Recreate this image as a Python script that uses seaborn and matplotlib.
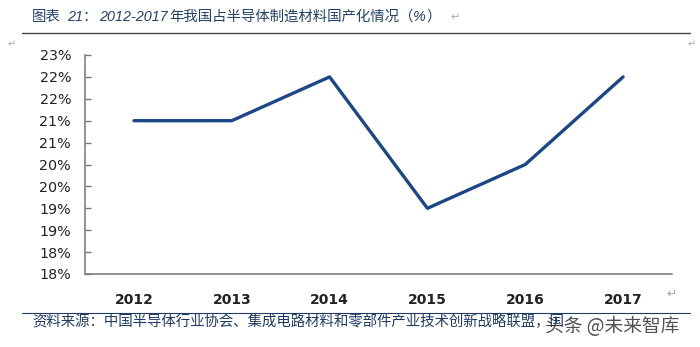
import matplotlib
matplotlib.use("Agg")
import matplotlib.pyplot as plt
import seaborn as sns
import pandas as pd

years = ["2012", "2013", "2014", "2015", "2016", "2017"]
share = [21.5, 21.5, 22.5, 19.5, 20.5, 22.5]
y_ticks = [18, 18.5, 19, 19.5, 20, 20.5, 21, 21.5, 22, 22.5, 23]
y_tick_labels = ["18%", "18%", "19%", "19%", "20%", "20%", "21%", "21%", "22%", "22%", "23%"]

sns.set_theme(style="white")
plt.rcParams["font.family"] = ["Noto Sans CJK SC", "DejaVu Sans"]

df = pd.DataFrame({"pos": range(len(years)), "share": share})

W, H = 700, 347
fig = plt.figure(figsize=(W / 100, H / 100), dpi=100)
ax = fig.add_axes([85 / W, 1 - 274 / H, (672 - 85) / W, (274 - 55) / H])

sns.lineplot(data=df, x="pos", y="share", ax=ax, color="#1c4787", linewidth=2.4)

ax.set_xlim(-0.5, len(years) - 0.5)
ax.set_ylim(18, 23)
ax.set_yticks(y_ticks)
ax.set_yticklabels(y_tick_labels, fontsize=10.3, color="#222222", family=["DejaVu Sans"])
ax.set_xticks(range(len(years)))
ax.set_xticklabels(years, fontsize=10, fontweight="bold", color="#222222", family=["DejaVu Sans"])
ax.set_xticks([i - 0.5 for i in range(len(years) + 1)], minor=True)
ax.tick_params(axis="x", which="major", length=0, pad=14)
ax.tick_params(axis="x", which="minor", direction="in", length=4, color="#777777", width=1)
ax.tick_params(axis="y", direction="in", length=4, color="#777777", width=1, left=True, pad=10)
ax.set_xlabel("")
ax.set_ylabel("")
for side in ("top", "right"):
    ax.spines[side].set_visible(False)
for side in ("left", "bottom"):
    ax.spines[side].set_color("#777777")
    ax.spines[side].set_linewidth(1.1)

# title block, drawn piece by piece so the numerals can be italic
renderer = fig.canvas.get_renderer()
title_color = "#24426a"
title_parts = [
    ("图表", {}, 0),
    ("21：", {"family": ["Liberation Sans", "Noto Sans CJK SC"], "style": "italic"}, 6),
    ("2012-2017", {"family": ["Liberation Sans"], "style": "italic"}, 2),
    ("年我国占半导体制造材料国产化情况（", {}, 1),
    ("%", {"family": ["Liberation Sans"], "style": "italic"}, 0),
    ("）", {}, 0),
]
x_px = 32
ty = 1 - 17 / H
for txt, kw, gap in title_parts:
    x_px += gap
    t = fig.text(x_px / W, ty, txt, fontsize=10.4, color=title_color, va="center", **kw)
    x_px += t.get_window_extent(renderer).width
fig.text((x_px + 10) / W, ty, "↵", fontsize=8, color="#aaaaaa", va="center")

fig.add_artist(plt.Line2D([22 / W, 690 / W], [1 - 33 / H, 1 - 33 / H],
                          color="#444444", linewidth=1.0))
fig.text(8 / W, 1 - 44 / H, "↵", fontsize=7, color="#aaaaaa", va="center")
fig.text(688 / W, 1 - 44 / H, "↵", fontsize=7, color="#aaaaaa", va="center")
fig.text(666 / W, 1 - 294 / H, "↵", fontsize=9, color="#aaaaaa", va="center")

# source line
fig.add_artist(plt.Line2D([22 / W, 690 / W], [1 - 313 / H, 1 - 313 / H],
                          color="#1f3b63", linewidth=0.8))
fig.text(32 / W, 1 - 322 / H, "资料来源：中国半导体行业协会、集成电路材料和零部件产业技术创新战略联盟，国",
         fontsize=10.4, color="#1f3b63", va="center")
fig.text(545 / W, 1 - 327 / H, "头条 @未来智库", fontsize=13.5, color="#333333", va="center",
         alpha=0.85)

fig.savefig("out.png", dpi=100, facecolor="white")
